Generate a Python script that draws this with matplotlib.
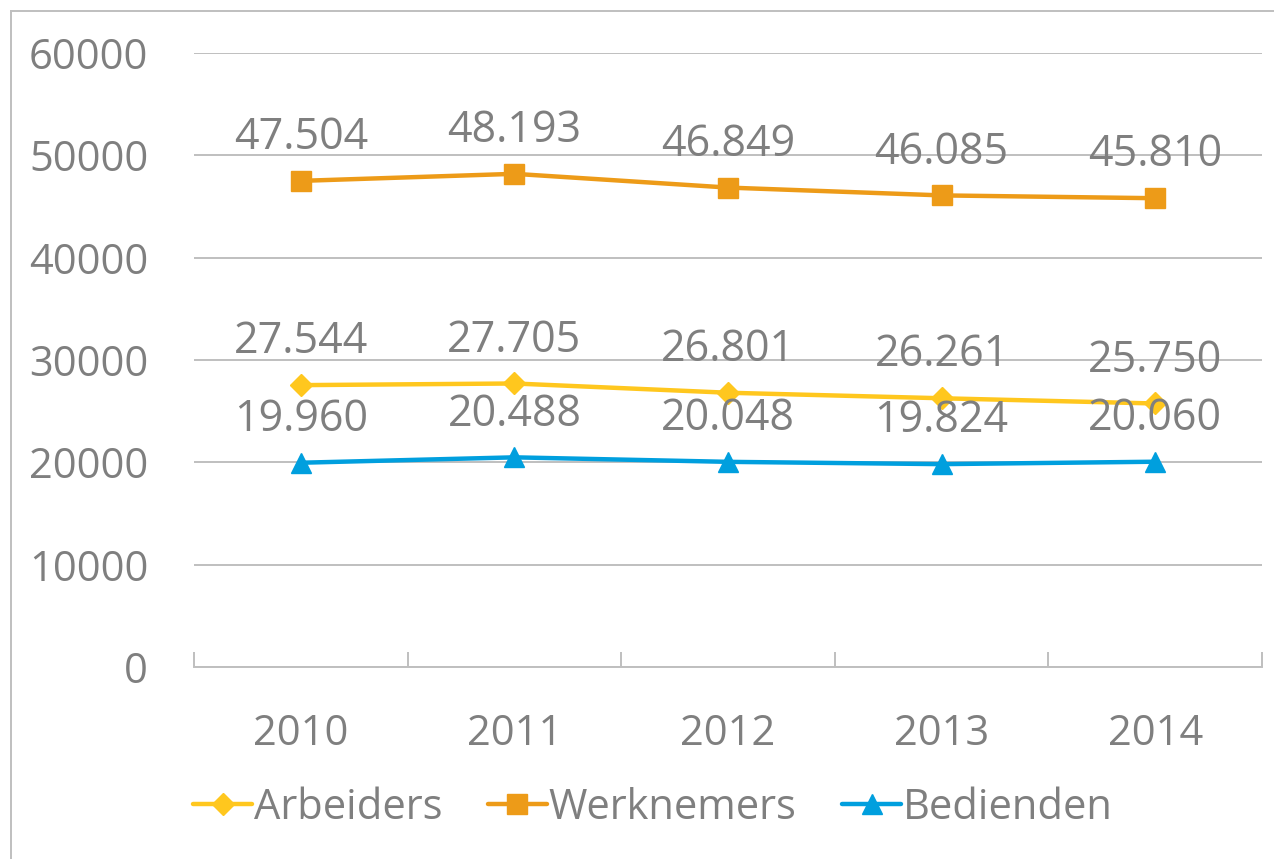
import matplotlib.pyplot as plt
from matplotlib.lines import Line2D

years = ["2010", "2011", "2012", "2013", "2014"]
arbeiders = [27544, 27705, 26801, 26261, 25750]
werknemers = [47504, 48193, 46849, 46085, 45810]
bedienden = [19960, 20488, 20048, 19824, 20060]

series = [
    ("Arbeiders", arbeiders, "#FFC71E", "D", 11),
    ("Werknemers", werknemers, "#ED9B18", "s", 14),
    ("Bedienden", bedienden, "#009FDE", "^", 15),
]

grey = "#7F7F7F"
plt.rcParams["font.family"] = ["Open Sans", "DejaVu Sans"]

fig = plt.figure(figsize=(12.74, 8.59), dpi=100)
ax = fig.add_axes([194 / 1274, 1 - 667 / 859, (1262 - 194) / 1274, (667 - 53) / 859])

x = list(range(len(years)))
for name, vals, color, marker, ms in series:
    ax.plot(x, vals, color=color, lw=3.2, marker=marker, ms=ms,
            label=name, solid_capstyle="round", zorder=3)
    for xi, v in zip(x, vals):
        ax.annotate(f"{v:,}".replace(",", "."), (xi, v), xytext=(0, 31),
                    textcoords="offset points", ha="center", va="center",
                    fontsize=31, color=grey, zorder=4)

ax.set_xlim(-0.5, len(years) - 0.5)
ax.set_ylim(0, 60000)
ax.set_yticks(range(0, 60001, 10000))
ax.yaxis.grid(True, color="#BFBFBF", lw=1.4)
ax.set_axisbelow(True)

ax.set_xticks(x)
ax.set_xticklabels(years)
ax.set_xticks([i - 0.5 for i in range(len(years) + 1)], minor=True)
ax.tick_params(axis="x", which="major", length=0, pad=33, labelsize=30, labelcolor=grey)
ax.tick_params(axis="x", which="minor", length=11, direction="in", color="#BFBFBF", width=1.4)
ax.tick_params(axis="y", length=0, pad=33, labelsize=30, labelcolor=grey)

for s in ["top", "right", "left"]:
    ax.spines[s].set_visible(False)
ax.spines["bottom"].set_color("#BFBFBF")
ax.spines["bottom"].set_linewidth(1.4)

leg = fig.legend(loc="center", bbox_to_anchor=(0.5126, 1 - 808 / 859), ncol=3,
                 frameon=False, fontsize=30, labelcolor=grey, handlelength=1.4,
                 handletextpad=0.05, columnspacing=1.1)

# chart area border (top and left visible)
fig.add_artist(Line2D([10.5 / 1274, 1], [1 - 10.5 / 859] * 2, color="#BFBFBF", lw=1.4))
fig.add_artist(Line2D([10.5 / 1274] * 2, [0, 1 - 10.5 / 859], color="#BFBFBF", lw=1.4))

fig.savefig("out.png", dpi=100)
